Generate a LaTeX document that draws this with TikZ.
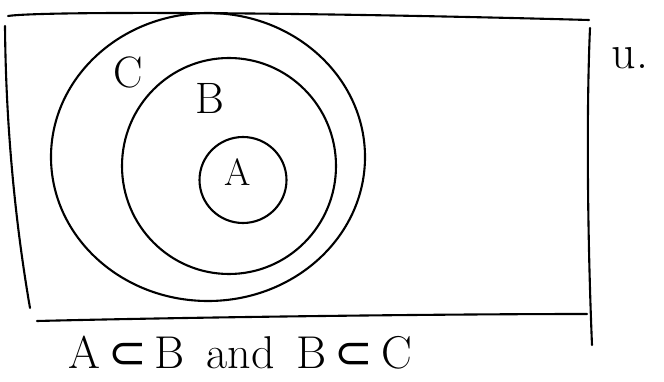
\documentclass[tikz,border=0pt]{standalone}
\usepackage{fontspec}
\newfontfamily\symfont{DejaVu Sans}
\usetikzlibrary{shapes.geometric}
\begin{document}
\begin{tikzpicture}[x=1pt,y=-1pt,
  pen/.style={line width=2.1pt,line cap=round,line join=round},
  setshape/.style={pen,draw,ellipse,inner sep=0pt},
  lbl/.style={font=\fontsize{44}{48}\selectfont}]
\useasboundingbox (0,0) rectangle (664,382);
% universal set frame
\draw[pen] (8,16) .. controls (40,11) and (300,12) .. (589,20);
\draw[pen] (5,26) .. controls (6,150) and (20,250) .. (30,308);
\draw[pen] (37,321) .. controls (200,317) and (450,314) .. (587,314);
\draw[pen] (590,28) .. controls (586,120) and (588,250) .. (592,345);
\node[lbl,font=\fontsize{48}{52}\selectfont] (u) at (630,58) {u.};
% sets
\node[setshape,minimum width=314pt,minimum height=288pt] (C) at (208,157) {};
\node[setshape,minimum width=214pt,minimum height=216pt] (B) at (229,166) {};
\node[setshape,minimum width=87pt,minimum height=86pt] (A) at (243,180) {};
\node[lbl] (lc) at (128,72) {C};
\node[lbl] (lb) at (210,98) {B};
\node[lbl,font=\fontsize{38}{42}\selectfont] (la) at (238,172) {A};
\node[font=\fontsize{46}{50}\selectfont,anchor=base west,inner sep=0pt] (cap) at (68,368) {A\hspace{8pt}{\symfont ⊂}\hspace{8pt}B\hspace{22pt}and\hspace{22pt}B\hspace{8pt}{\symfont ⊂}\hspace{8pt}C};
\end{tikzpicture}
\end{document}
